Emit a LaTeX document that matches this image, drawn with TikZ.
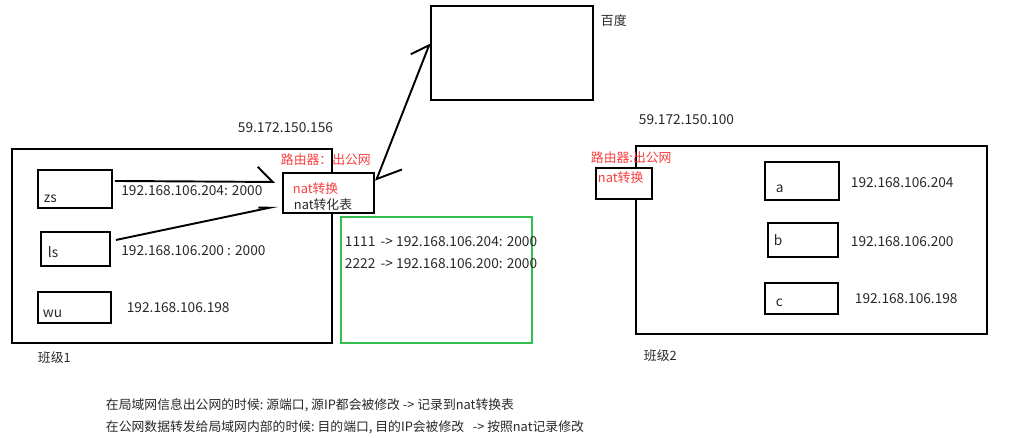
\documentclass[tikz,border=0pt]{standalone}
\usepackage{fontspec}
\setmainfont{Noto Sans CJK SC}
\usepackage{tikz}
\usetikzlibrary{arrows.meta,positioning,calc}

\definecolor{natred}{RGB}{250,62,62}
\definecolor{tablegreen}{RGB}{52,190,82}
\definecolor{ink}{RGB}{40,40,40}

\begin{document}
\begin{tikzpicture}[x=0.02cm, y=-0.02cm, line width=1.1pt,
    font=\fontsize{7.3}{9}\selectfont, text=ink,
    box/.style={rectangle, draw, anchor=north west, inner sep=0pt},
    txt/.style={anchor=west, inner sep=0pt},
    iptxt/.style={txt, font=\fontsize{7.8}{9}\selectfont},
    redtxt/.style={txt, text=natred},
    harp/.style={-{Straight Barb[harpoon, length=0.3cm, width=0.6cm]}},
    harps/.style={{Straight Barb[harpoon, length=0.36cm, width=0.8cm]}-{Straight Barb[harpoon, length=0.3cm, width=0.55cm]}}]
    \useasboundingbox (0,0) rectangle (1010,437);

    % class 1
    \node (class1) [box, minimum width=6.4cm, minimum height=3.88cm] at (11,148) {};
    \node (zs) [box, minimum width=1.48cm, minimum height=0.76cm] at (37,169) {};
    \node (ls) [box, minimum width=1.38cm, minimum height=0.68cm] at (40,231) {};
    \node (wu) [box, minimum width=1.46cm, minimum height=0.62cm] at (37,291) {};
    \node (zsname) [inner sep=0pt, font=\fontsize{7.8}{9}\selectfont, above right=0.1cm and 0.12cm of zs.south west] {zs};
    \node (lsname) [inner sep=0pt, font=\fontsize{7.8}{9}\selectfont, above right=0.16cm and 0.14cm of ls.south west] {ls};
    \node (wuname) [inner sep=0pt, font=\fontsize{7.8}{9}\selectfont, above right=0.1cm and 0.1cm of wu.south west] {wu};
    \node (zsip) [iptxt, right=0.15cm of zs.east, yshift=-0.04cm] {192.168.106.204: 2000};
    \node (lsip) [iptxt, right=0.19cm of ls.east, yshift=-0.04cm] {192.168.106.200 : 2000};
    \node (wuip) [iptxt, right=0.28cm of wu.east] {192.168.106.198};
    \node (class1name) [txt] at (37,358) {班级1};

    % router of class 1
    \node (router1) [box, fill=white, minimum width=1.82cm, minimum height=0.8cm] at (282,172) {};
    \node (router1name) [redtxt] at (280,160) {路由器：出公网};
    \node (nat1) [redtxt] at (292,189) {nat转换};
    \node (nattable) [txt] at (293,205) {nat转化表};
    \node (wan1) [iptxt] at (237,128) {59.172.150.156};

    % nat table
    \node (table) [box, draw=tablegreen, minimum width=3.82cm, minimum height=2.52cm] at (340,216) {};
    \node (row1) [iptxt] at (344,242) {1111 \,-> 192.168.106.204: 2000};
    \node (row2) [iptxt] at (344,264) {2222 \,-> 192.168.106.200: 2000};

    % baidu
    \node (baidu) [box, minimum width=3.24cm, minimum height=1.88cm] at (430,5) {};
    \node (baiduname) [txt] at (600,21) {百度};

    % class 2
    \node (class2) [box, minimum width=7.02cm, minimum height=3.76cm] at (635,145) {};
    \node (router2) [box, fill=white, minimum width=1.12cm, minimum height=0.62cm] at (595,167) {};
    \node (router2name) [redtxt] at (590,158) {路由器:出公网};
    \node (nat2) [redtxt] at (597,178) {nat转换};
    \node (wan2) [iptxt] at (638,120) {59.172.150.100};
    \node (a) [box, minimum width=1.48cm, minimum height=0.76cm] at (764,161) {};
    \node (b) [box, minimum width=1.4cm, minimum height=0.68cm] at (767,222) {};
    \node (c) [box, minimum width=1.46cm, minimum height=0.62cm] at (764,282) {};
    \node (aname) [inner sep=0pt, font=\fontsize{7.8}{9}\selectfont, above right=0.14cm and 0.22cm of a.south west] {a};
    \node (bname) [inner sep=0pt, font=\fontsize{7.8}{9}\selectfont, above right=0.22cm and 0.12cm of b.south west] {b};
    \node (cname) [inner sep=0pt, font=\fontsize{7.8}{9}\selectfont, above right=0.14cm and 0.22cm of c.south west] {c};
    \node (aip) [iptxt, right=0.2cm of a.east, yshift=-0.04cm] {192.168.106.204};
    \node (bip) [iptxt, right=0.22cm of b.east, yshift=-0.04cm] {192.168.106.200};
    \node (cip) [iptxt, right=0.3cm of c.east] {192.168.106.198};
    \node (class2name) [txt] at (643,356) {班级2};

    % notes
    \node (note1) [txt] at (105,405) {在局域网信息出公网的时候:~源端口, 源IP都会被修改 -> 记录到nat转换表};
    \node (note2) [txt] at (105,427) {在公网数据转发给局域网内部的时候:~目的端口, 目的IP会被修改 \ \ -> 按照nat记录修改};

    % connectors
    \draw[harp] ($(zs.east)+(2,-8)$) -- ($(router1.west)+(-7,-11)$);
    \draw[-{Straight Barb[harpoon, length=0.22cm, width=0.1cm]}] ($(ls.east)+(5,-9)$) -- ($(router1.west)+(-4,13)$);
    \draw[harps] ($(router1.north east)+(1,9)$) -- ($(baidu.west)+(0,-10)$);
\end{tikzpicture}
\end{document}
